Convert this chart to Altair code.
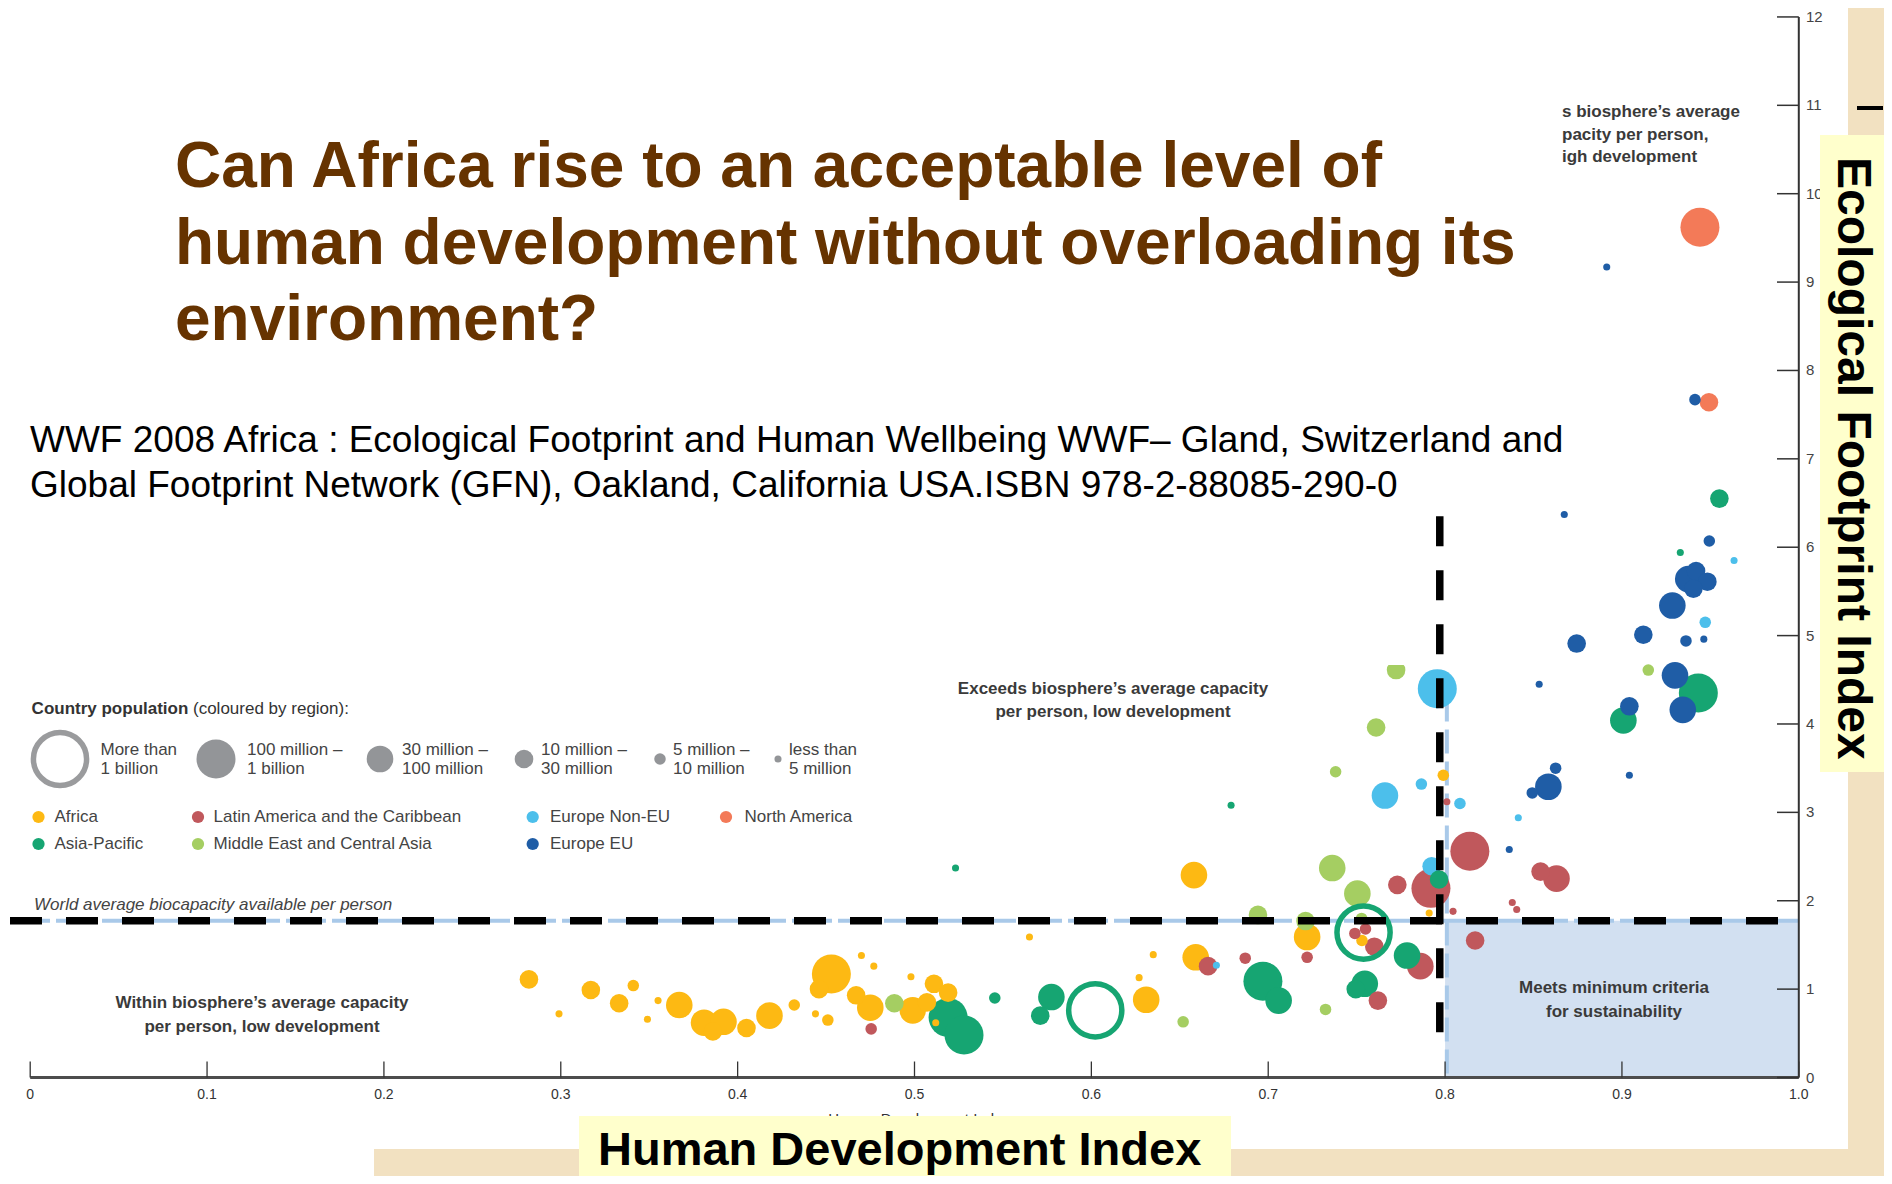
import altair as alt
import pandas as pd

# ---------------- data ----------------
REGIONS = ["Africa", "Latin America and the Caribbean", "Europe Non-EU",
           "North America", "Asia-Pacific", "Middle East and Central Asia", "Europe EU"]
REGION_COLORS = ["#FDB913", "#C0585C", "#4CBFEB", "#F37A58", "#16A572", "#A5CE62", "#1F5DA6"]

# population in millions (representative value of the size class of each bubble)
africa_hdi = [0.282, 0.299, 0.317, 0.333, 0.341, 0.355, 0.349, 0.367, 0.381, 0.392, 0.386, 0.405,
              0.418, 0.432, 0.453, 0.446, 0.470, 0.477, 0.467, 0.475, 0.444, 0.451, 0.498, 0.511,
              0.519, 0.499, 0.507, 0.512, 0.565, 0.627, 0.635, 0.631, 0.658, 0.659, 0.722, 0.753,
              0.791, 0.799]
africa_ef = [1.11, 0.72, 0.99, 0.84, 1.04, 0.87, 0.66, 0.82, 0.62, 0.63, 0.52, 0.56,
             0.70, 0.82, 1.17, 1.00, 1.38, 1.26, 0.93, 0.79, 0.72, 0.65, 1.14, 1.06,
             0.96, 0.76, 0.85, 0.62, 1.59, 1.13, 1.39, 0.88, 2.29, 1.36, 1.59, 1.55,
             1.86, 3.42]
africa_pop = [20, 3, 20, 20, 7, 3, 3, 60, 60, 60, 20, 20,
              60, 7, 200, 20, 3, 3, 20, 60, 3, 7, 3, 20,
              20, 60, 20, 3, 3, 3, 3, 60, 60, 60, 60, 7,
              3, 7]

latam_hdi = [0.4755, 0.666, 0.687, 0.722, 0.749, 0.755, 0.760, 0.786, 0.762, 0.773, 0.792,
             0.8045, 0.801, 0.814, 0.817, 0.838, 0.8405, 0.854, 0.863]
latam_ef = [0.55, 1.26, 1.35, 1.36, 1.63, 1.68, 1.48, 1.26, 0.87, 2.18, 2.14,
            1.88, 3.12, 2.56, 1.55, 1.98, 1.90, 2.33, 2.25]
latam_pop = [7, 20, 7, 7, 7, 7, 20, 60, 20, 20, 200, 3, 3, 200, 20, 3, 3, 20, 60]

eunon_hdi = [0.6707, 0.766, 0.7866, 0.7956, 0.8084, 0.7924, 0.8414, 0.9471, 0.9634]
eunon_ef = [1.27, 3.19, 3.32, 4.40, 3.10, 2.39, 2.94, 5.15, 5.85]
eunon_pop = [3, 60, 7, 200, 7, 20, 3, 7, 3]

na_hdi = [0.9441, 0.9492]
na_ef = [9.62, 7.64]
na_pop = [200, 20]

ap_hdi = [0.5232, 0.519, 0.528, 0.5454, 0.5774, 0.5711, 0.6022, 0.679, 0.697, 0.7059,
          0.7539, 0.7546, 0.7495, 0.7785, 0.7966, 0.9008, 0.9432, 0.933, 0.9551]
ap_ef = [2.37, 0.68, 0.48, 0.90, 0.91, 0.70, 0.76, 3.08, 1.09, 0.87,
         1.64, 1.06, 1.00, 1.38, 2.24, 4.04, 4.35, 5.94, 6.55]
ap_pop = [3, 200, 200, 7, 60, 20, 1200, 3, 200, 60, 1200, 60, 20, 60, 20, 60, 200, 3, 20]

me_hdi = [0.4886, 0.6519, 0.6942, 0.7211, 0.7324, 0.7362, 0.7504, 0.7381, 0.761, 0.7723,
          0.9149, 0.7528]
me_ef = [0.84, 0.63, 1.84, 1.77, 0.77, 2.37, 2.08, 3.46, 3.96, 4.61, 4.61, 1.80]
me_pop = [20, 7, 20, 20, 7, 60, 60, 7, 20, 20, 7, 7]

eu_hdi = [0.8914, 0.9413, 0.8674, 0.9494, 0.9375, 0.9419, 0.9483, 0.9404, 0.9285, 0.9121,
          0.8744, 0.9362, 0.9463, 0.930, 0.9344, 0.9042, 0.8532, 0.8584, 0.8625, 0.8493,
          0.9042, 0.8363]
eu_ef = [9.17, 7.67, 6.37, 6.07, 5.64, 5.73, 5.61, 5.53, 5.34, 5.01,
         4.91, 4.94, 4.96, 4.55, 4.16, 4.20, 4.45, 3.29, 3.50, 3.22,
         3.42, 2.58]
eu_pop = [3, 7, 3, 7, 60, 20, 20, 20, 60, 20, 20, 7, 3, 60, 60, 20, 3, 60, 7, 7, 3, 3]

WORLD_BIOCAP = 1.775      # world average biocapacity per person
HDI_THRESHOLD = 0.8       # high human development
X_TICKS = [0, 0.1, 0.2, 0.3, 0.4, 0.5, 0.6, 0.7, 0.8, 0.9, 1.0]
X_TICK_LABELS = ["0", "0.1", "0.2", "0.3", "0.4", "0.5", "0.6", "0.7", "0.8", "0.9", "1.0"]
Y_TICKS = list(range(13))
Y_TICK_LABELS = [str(v) for v in Y_TICKS]

SIZE_CLASSES = [1200, 200, 60, 20, 7, 3]
SIZE_LABELS_1 = ["More than", "100 million \u2013", "30 million \u2013", "10 million \u2013",
                 "5 million \u2013", "less than"]
SIZE_LABELS_2 = ["1 billion", "1 billion", "100 million", "30 million", "10 million", "5 million"]

# ---------------- geometry ----------------
W, H = 1876, 1168
OX, SX = 22.2, 1768.6     # pixel of HDI 0 and pixels per HDI unit
OY, SY = 1069.5, 88.38    # pixel of EF 0 and pixels per EF unit


def hx(px):
    return (px - OX) / SX


def ey(py):
    return (OY - py) / SY


xs = alt.Scale(domain=[hx(0), hx(W)], range=[0, W], nice=False, zero=False)
ys = alt.Scale(domain=[ey(H), ey(0)], range=[H, 0], nice=False, zero=False)
color_scale = alt.Scale(domain=REGIONS, range=REGION_COLORS)
size_scale = alt.Scale(type="threshold", domain=[5, 10, 30, 100, 1000],
                       range=[50, 133, 346, 707, 1521, 2827])

FONT = "Liberation Sans"
BEIGE = "#F2E1C1"


def X(f="x"):
    return alt.X(f"{f}:Q", scale=xs, axis=None)


def Y(f="y"):
    return alt.Y(f"{f}:Q", scale=ys, axis=None)


def text_layer(items, **mark):
    df = pd.DataFrame({"x": [hx(p[0]) for p in items],
                       "y": [ey(p[1]) for p in items],
                       "t": [p[2] for p in items]})
    mark.setdefault("font", FONT)
    return alt.Chart(df).mark_text(**mark).encode(x=X(), y=Y(), text=alt.Text("t:N"))


def px_rect(x0, y0, x1, y1, color):
    df = pd.DataFrame({"x": [hx(x0)], "x2": [hx(x1)], "y": [ey(y0)], "y2": [ey(y1)]})
    return alt.Chart(df).mark_rect(color=color).encode(
        x=X(), x2=alt.X2("x2:Q"), y=Y(), y2=alt.Y2("y2:Q"))


# ---------------- bubbles ----------------
rows = []
for reg, hs, es, ps in [(REGIONS[0], africa_hdi, africa_ef, africa_pop),
                        (REGIONS[1], latam_hdi, latam_ef, latam_pop),
                        (REGIONS[2], eunon_hdi, eunon_ef, eunon_pop),
                        (REGIONS[3], na_hdi, na_ef, na_pop),
                        (REGIONS[4], ap_hdi, ap_ef, ap_pop),
                        (REGIONS[5], me_hdi, me_ef, me_pop),
                        (REGIONS[6], eu_hdi, eu_ef, eu_pop)]:
    for h, e, p in zip(hs, es, ps):
        rows.append({"region": reg, "hdi": h, "ef": e, "pop": p})
bub = pd.DataFrame(rows).sort_values("pop", ascending=False, kind="stable").reset_index(drop=True)
filled = bub[bub["pop"] < 1000]
rings = bub[bub["pop"] >= 1000]

layers = []

# white paper areas over the beige background
layers.append(px_rect(0, 0, 1840, 1141, "#FFFFFF"))
layers.append(px_rect(0, 1141, 366, 1168, "#FFFFFF"))

# sustainability quadrant
quad = pd.DataFrame({"x": [HDI_THRESHOLD], "x2": [1.0], "y": [0.0], "y2": [WORLD_BIOCAP]})
layers.append(alt.Chart(quad).mark_rect(color="#D2E0F1").encode(
    x=X(), x2=alt.X2("x2:Q"), y=Y(), y2=alt.Y2("y2:Q")))

# original light-blue reference lines
lb_h = pd.DataFrame({"x": [hx(2)], "x2": [1.0], "y": [WORLD_BIOCAP]})
layers.append(alt.Chart(lb_h).mark_rule(color="#A9C9E9", strokeWidth=4, strokeDash=[40, 6]).encode(
    x=X(), x2=alt.X2("x2:Q"), y=Y()))
lb_v = pd.DataFrame({"x": [0.801], "y": [4.3], "y2": [0.0]})
layers.append(alt.Chart(lb_v).mark_rule(color="#A9C9E9", strokeWidth=4, strokeDash=[24, 8]).encode(
    x=X(), y=Y(), y2=alt.Y2("y2:Q")))

layers.append(alt.Chart(filled).mark_circle(opacity=1).encode(
    x=X("hdi"), y=Y("ef"),
    color=alt.Color("region:N", scale=color_scale, legend=None),
    size=alt.Size("pop:Q", scale=size_scale, legend=None)))
layers.append(alt.Chart(rings).mark_point(filled=False, opacity=1, strokeWidth=5.5, shape="circle").encode(
    x=X("hdi"), y=Y("ef"),
    color=alt.Color("region:N", scale=color_scale, legend=None),
    size=alt.Size("pop:Q", scale=size_scale, legend=None)))

# white box of the citation, hiding the top of the plot
layers.append(px_rect(0, 380, 1420, 657, "#FFFFFF"))

# black dashed overlay lines
bl_h = pd.DataFrame({"x": [hx(2)], "x2": [0.9915], "y": [WORLD_BIOCAP]})
layers.append(alt.Chart(bl_h).mark_rule(color="black", strokeWidth=7.5, strokeDash=[32, 24]).encode(
    x=X(), x2=alt.X2("x2:Q"), y=Y()))
bl_v = pd.DataFrame({"x": [0.797], "y": [6.35], "y2": [0.35]})
layers.append(alt.Chart(bl_v).mark_rule(color="black", strokeWidth=7.5, strokeDash=[30, 24]).encode(
    x=X(), y=Y(), y2=alt.Y2("y2:Q")))

# ---------------- axes ----------------
xax = pd.DataFrame({"x": [0.0], "x2": [1.0], "y": [0.0]})
layers.append(alt.Chart(xax).mark_rule(color="#4D4D4D", strokeWidth=3).encode(
    x=X(), x2=alt.X2("x2:Q"), y=Y()))
xt = pd.DataFrame({"x": X_TICKS, "y": [0.0] * len(X_TICKS), "y2": [16 / SY] * len(X_TICKS),
                   "t": X_TICK_LABELS})
layers.append(alt.Chart(xt).mark_rule(color="#333333", strokeWidth=1.3).encode(
    x=X(), y=Y(), y2=alt.Y2("y2:Q")))
xt["ly"] = ey(1087)
layers.append(alt.Chart(xt).mark_text(font=FONT, fontSize=14, color="#333333", baseline="middle").encode(
    x=X(), y=Y("ly"), text=alt.Text("t:N")))

yax = pd.DataFrame({"x": [1.0], "y": [0.0], "y2": [12.0]})
layers.append(alt.Chart(yax).mark_rule(color="#333333", strokeWidth=2).encode(
    x=X(), y=Y(), y2=alt.Y2("y2:Q")))
yt = pd.DataFrame({"y": Y_TICKS, "x": [hx(1769)] * len(Y_TICKS), "x2": [1.0] * len(Y_TICKS),
                   "t": Y_TICK_LABELS, "lx": [hx(1798)] * len(Y_TICKS)})
layers.append(alt.Chart(yt).mark_rule(color="#333333", strokeWidth=1.5).encode(
    x=X(), x2=alt.X2("x2:Q"), y=Y()))
layers.append(alt.Chart(yt).mark_text(font=FONT, fontSize=15, color="#444444", align="left",
                                      baseline="middle").encode(
    x=X("lx"), y=Y(), text=alt.Text("t:N")))

layers.append(text_layer([(911, 1104, "Human Development Index")], fontSize=15, color="#333333",
                         baseline="top", align="center"))

# ---------------- annotations ----------------
ann = dict(fontSize=17, fontWeight="bold", color="#3A3A3A", baseline="middle", align="center")
layers.append(text_layer([(1105, 681, "Exceeds biosphere\u2019s average capacity"),
                          (1105, 704, "per person, low development"),
                          (254, 995, "Within biosphere\u2019s average capacity"),
                          (254, 1019, "per person, low development"),
                          (1606, 980, "Meets minimum criteria"),
                          (1606, 1004, "for sustainability")], **ann))
layers.append(text_layer([(1554, 104, "s biosphere\u2019s average"),
                          (1554, 127, "pacity per person,"),
                          (1554, 149, "igh development")],
                         fontSize=17, fontWeight="bold", color="#3A3A3A", baseline="middle",
                         align="left"))
layers.append(text_layer([(26, 897, "World average biocapacity available per person")],
                         fontSize=17, fontStyle="italic", color="#444444", baseline="middle",
                         align="left"))

# ---------------- legend ----------------
layers.append(text_layer([(23.6, 701, "Country population")], fontSize=17, fontWeight="bold",
                         color="#333333", baseline="middle", align="left"))
layers.append(text_layer([(185, 701, "(coloured by region):")], fontSize=17,
                         color="#333333", baseline="middle", align="left"))

leg_cx = [52, 208, 372, 516, 652, 770]
leg_lx = [92.5, 239, 394, 533, 665, 781]
leg = pd.DataFrame({"x": [hx(v) for v in leg_cx], "y": [ey(751)] * 6, "pop": SIZE_CLASSES})
layers.append(alt.Chart(leg[leg["pop"] < 1000]).mark_circle(color="#939598", opacity=1).encode(
    x=X(), y=Y(), size=alt.Size("pop:Q", scale=size_scale, legend=None)))
layers.append(alt.Chart(leg[leg["pop"] >= 1000]).mark_point(
    filled=False, color="#9A9B9D", opacity=1, strokeWidth=5.5, shape="circle").encode(
    x=X(), y=Y(), size=alt.Size("pop:Q", scale=size_scale, legend=None)))
leg_txt = [(leg_lx[i], 742, SIZE_LABELS_1[i]) for i in range(6)] + \
          [(leg_lx[i], 761, SIZE_LABELS_2[i]) for i in range(6)]
layers.append(text_layer(leg_txt, fontSize=17, color="#444444", baseline="middle", align="left"))

reg_dot_x = [30.5, 190, 524.7, 718, 30.5, 190, 524.7]
reg_lab_x = [46.5, 205.5, 542, 736.5, 46.5, 205.5, 542]
reg_y = [809, 809, 809, 809, 836, 836, 836]
reg_order = [0, 1, 2, 3, 4, 5, 6]
rleg = pd.DataFrame({"x": [hx(v) for v in reg_dot_x], "y": [ey(v) for v in reg_y],
                     "region": [REGIONS[i] for i in reg_order]})
layers.append(alt.Chart(rleg).mark_circle(size=150, opacity=1).encode(
    x=X(), y=Y(), color=alt.Color("region:N", scale=color_scale, legend=None)))
layers.append(text_layer([(reg_lab_x[i], reg_y[i], REGIONS[i]) for i in reg_order],
                         fontSize=17, color="#444444", baseline="middle", align="left"))

# ---------------- slide title & citation ----------------
layers.append(text_layer([(167, 179, "Can Africa rise to an acceptable level of"),
                          (167, 256, "human development without overloading its"),
                          (167, 332, "environment?")],
                         fontSize=64, fontWeight="bold", color="#663300", align="left",
                         baseline="alphabetic"))
layers.append(text_layer([(22, 444, "WWF 2008 Africa : Ecological Footprint and Human Wellbeing WWF\u2013 Gland, Switzerland and"),
                          (22, 489, "Global Footprint Network (GFN), Oakland, California USA.ISBN 978-2-88085-290-0")],
                         fontSize=37, color="#000000", align="left", baseline="alphabetic"))

# ---------------- yellow axis-name boxes ----------------
layers.append(px_rect(1812, 127, 1876, 764, "#FFFFCC"))
layers.append(text_layer([(1830, 149, "Ecological Footprint Index")], fontSize=48, fontWeight="bold",
                         color="#000000", angle=90, align="left", baseline="alphabetic"))
layers.append(px_rect(571, 1108, 1223, 1168, "#FFFFCC"))
layers.append(text_layer([(590, 1157, "Human Development Index")], fontSize=47, fontWeight="bold",
                         color="#000000", align="left", baseline="alphabetic"))

# small stray dash at the right edge
dash = pd.DataFrame({"x": [hx(1849)], "x2": [hx(1875)], "y": [ey(100)]})
layers.append(alt.Chart(dash).mark_rule(color="black", strokeWidth=4).encode(
    x=X(), x2=alt.X2("x2:Q"), y=Y()))

chart = alt.layer(*layers).properties(
    width=W, height=H, padding=0, background=BEIGE,
    autosize=alt.AutoSizeParams(type="none"),
).configure_view(stroke=None)

chart.save("out.html", embed_options={"renderer": "svg", "actions": False})
